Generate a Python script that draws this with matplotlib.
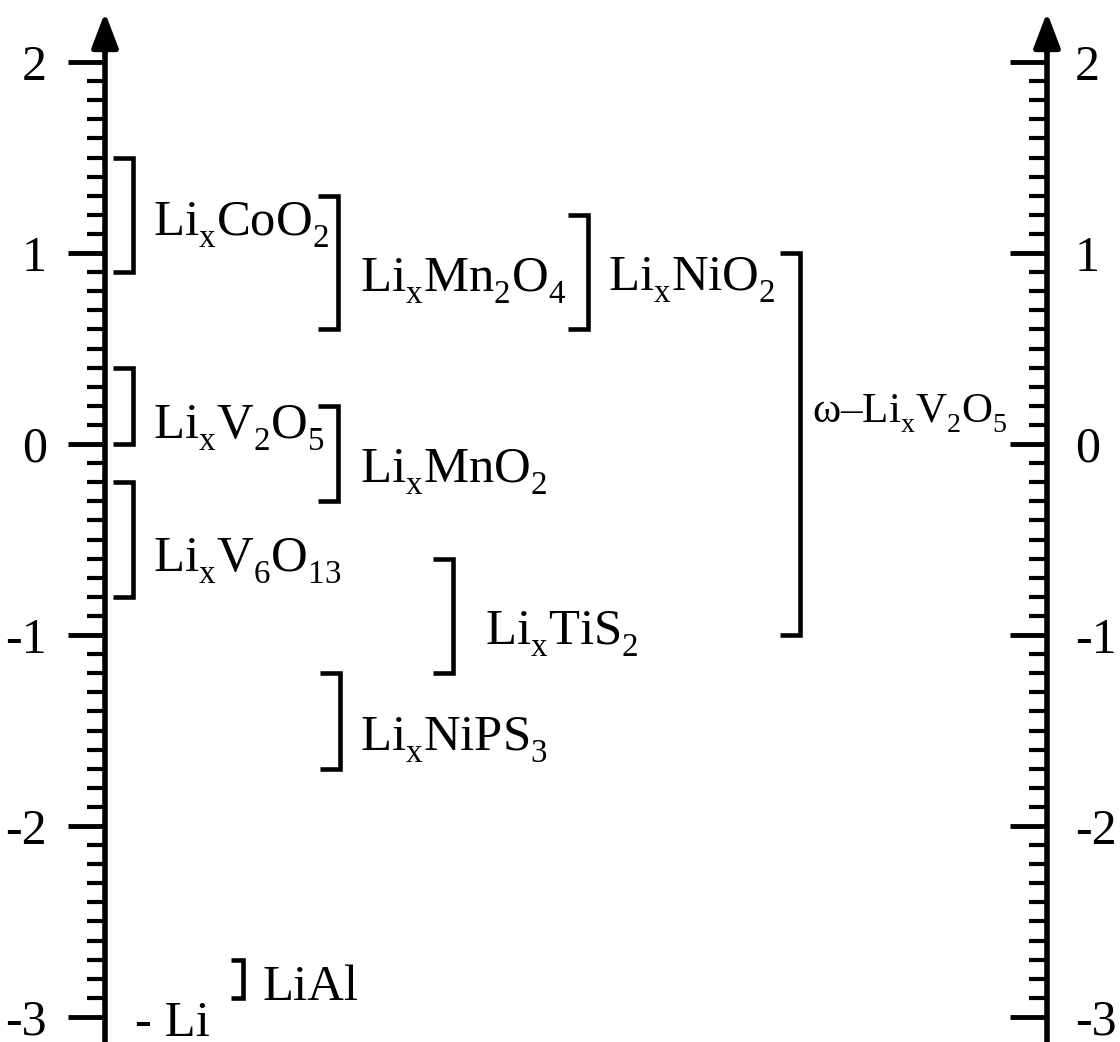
import numpy as np
import matplotlib
matplotlib.use('Agg')
import matplotlib.pyplot as plt
import matplotlib._mathtext as mathtext_internals
from matplotlib.ticker import FixedLocator, FuncFormatter

plt.rcParams['font.family'] = 'Liberation Serif'
plt.rcParams['mathtext.fontset'] = 'custom'
plt.rcParams['mathtext.rm'] = 'Liberation Serif'
plt.rcParams['mathtext.default'] = 'regular'

# lower, slightly smaller subscripts, closer to typeset chemical formulas
mathtext_internals.FontConstantsBase.sub1 = 0.55
mathtext_internals.SHRINK_FACTOR = 0.65

# host materials and their potential windows (V)
hosts = [r'Li$_x$CoO$_2$', r'Li$_x$Mn$_2$O$_4$', r'Li$_x$NiO$_2$', r'ω–Li$_x$V$_2$O$_5$',
         r'Li$_x$V$_2$O$_5$', r'Li$_x$MnO$_2$', r'Li$_x$V$_6$O$_{13}$', r'Li$_x$TiS$_2$',
         r'Li$_x$NiPS$_3$', 'LiAl']
v_high = [1.5, 1.3, 1.2, 1.0, 0.4, 0.2, -0.2, -0.6, -1.2, -2.7]
v_low = [0.9, 0.6, 0.6, -1.0, 0.0, -0.3, -0.8, -1.2, -1.7, -2.9]
li_ref = -3.0

major_ticks = [-3, -2, -1, 0, 1, 2]

# where each bracket and its label sit on the page
bracket_x = [133, 338, 588, 800, 133, 338, 133, 453, 340, 243]
serif_len = [20, 20, 20, 20, 20, 20, 20, 20, 20, 12]
label_x = [153, 360, 608, 812, 153, 360, 153, 485, 360, 263]
label_base = [1.094, 0.80, 0.806, 0.11, 0.037, -0.20, -0.66, -1.05, -1.60, -2.91]
label_size = [36.5, 36.5, 36.5, 31, 36.5, 36.5, 36.5, 36.5, 36.5, 36.5]

fig = plt.figure(figsize=(11.2, 10.42), dpi=100)
ax = fig.add_axes([0, 0, 1, 1])
ax.set_xlim(0, 1120)
ax.set_ylim(-3.131, 2.325)
ax2 = ax.twinx()
ax2.set_ylim(ax.get_ylim())

left_x, right_x = 105, 1047
minor = np.round(np.arange(-3, 2.001, 0.1), 1)
fmt = FuncFormatter(lambda v, p: '%d' % round(v))

for a, side, xpos in ((ax, 'left', left_x), (ax2, 'right', right_x)):
    for s in a.spines:
        a.spines[s].set_visible(s == side)
    a.spines[side].set_position(('data', xpos))
    a.spines[side].set_bounds(-3.3, 2.1)
    a.spines[side].set_linewidth(4)
    a.yaxis.set_major_locator(FixedLocator(major_ticks))
    a.yaxis.set_minor_locator(FixedLocator(minor))
    a.yaxis.set_major_formatter(fmt)
    a.set_xticks([])
    d = 'out' if side == 'left' else 'in'
    a.tick_params(axis='y', which='major', direction=d, length=27, width=3.5,
                  labelsize=36, pad=15 if side == 'left' else 20)
    a.tick_params(axis='y', which='minor', direction=d, length=13, width=3)
    # arrowhead on top of the scale
    a.annotate('', xy=(xpos, 2.26), xytext=(xpos, 2.05),
               arrowprops=dict(arrowstyle='-|>,head_length=1.05,head_width=0.4',
                               mutation_scale=20, lw=4, color='black',
                               shrinkA=0, shrinkB=0))

for name, hi, lo, bx, sl, lx, ly, fs in zip(hosts, v_high, v_low, bracket_x, serif_len,
                                            label_x, label_base, label_size):
    ax.plot([bx - sl, bx, bx, bx - sl], [hi, hi, lo, lo], color='black', lw=3.3,
            solid_joinstyle='miter', solid_capstyle='butt')
    ax.text(lx, ly, name, fontsize=fs, ha='left', va='baseline')

ax.text(135, li_ref - 0.10, '- Li', fontsize=36.5, ha='left', va='baseline')

fig.savefig('out.png', dpi=100)
